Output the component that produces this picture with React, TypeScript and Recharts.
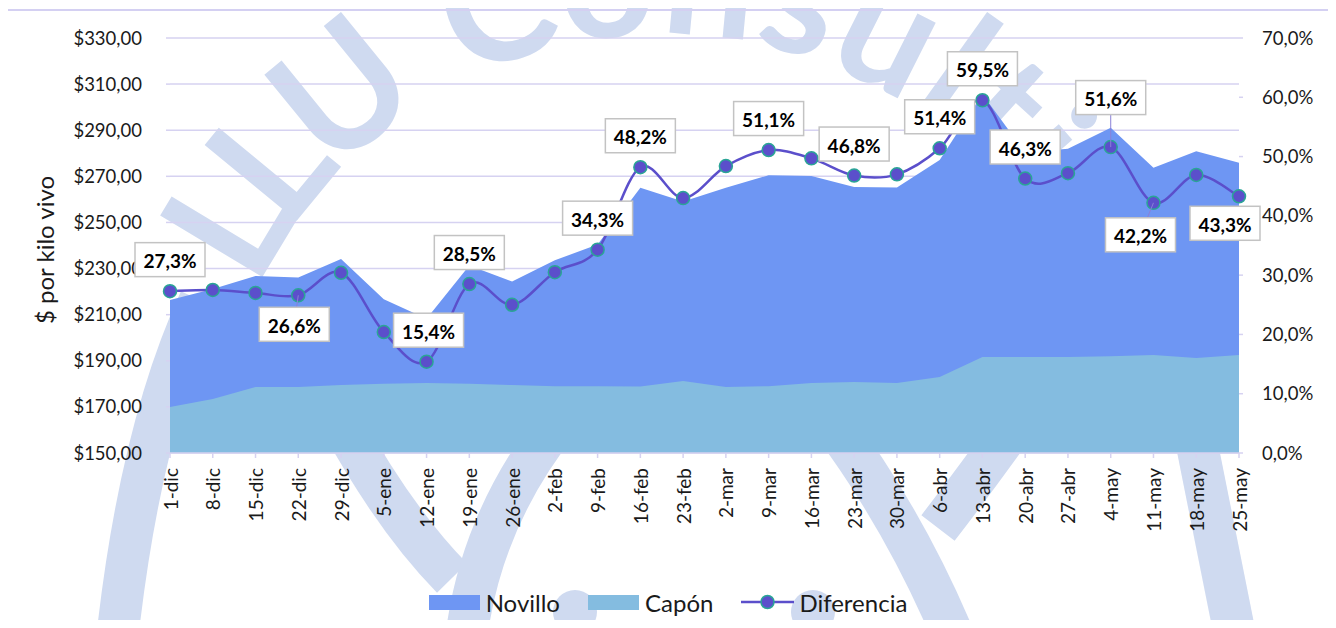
import React from "react";
import {
  Area,
  CartesianGrid,
  ComposedChart,
  LabelList,
  Legend,
  Line,
  XAxis,
  YAxis,
} from "recharts";

const weeks = [
  "1-dic", "8-dic", "15-dic", "22-dic", "29-dic", "5-ene", "12-ene", "19-ene", "26-ene",
  "2-feb", "9-feb", "16-feb", "23-feb", "2-mar", "9-mar", "16-mar", "23-mar", "30-mar",
  "6-abr", "13-abr", "20-abr", "27-abr", "4-may", "11-may", "18-may", "25-may",
];

const novillo = [
  216.4, 221.1, 226.8, 226.1, 234.1, 216.7, 208.2, 231.3, 224.4, 233.6, 240.4, 265.0, 259.1,
  265.0, 270.5, 270.1, 265.4, 265.2, 277.1, 305.6, 280.3, 282.0, 291.1, 273.7, 280.9, 275.9,
];

const capon = [
  170.0, 173.4, 178.6, 178.6, 179.5, 180.0, 180.4, 180.0, 179.5, 179.0, 179.0, 178.8, 181.2,
  178.6, 179.0, 180.4, 180.8, 180.4, 183.0, 191.6, 191.6, 191.6, 192.0, 192.5, 191.2, 192.5,
];

const diferencia = [
  27.3, 27.5, 27.0, 26.6, 30.4, 20.4, 15.4, 28.5, 25.0, 30.5, 34.3, 48.2, 43.0,
  48.4, 51.1, 49.7, 46.8, 47.0, 51.4, 59.5, 46.3, 47.2, 51.6, 42.2, 46.9, 43.3,
];

const priceTicks = [150, 170, 190, 210, 230, 250, 270, 290, 310, 330];
const pctTicks = [0, 10, 20, 30, 40, 50, 60, 70];

// which points carry a data label
const labeled = [0, 3, 6, 7, 10, 11, 14, 16, 18, 19, 20, 22, 23, 25];

const data = weeks.map((week, i) => ({
  week,
  novillo: novillo[i],
  capon: capon[i],
  diferencia: diferencia[i],
}));

const FONT = "Lato, 'Open Sans', sans-serif";
const NOVILLO = "#6e96f3";
const CAPON = "#84bce0";
const LINE = "#5b4fcb";
const MARKER_EDGE = "#2aa596";
const GRID = "#d6d2f1";
const WATERMARK = "#cfdaf0";

const labelOffsets: Record<number, { dx?: number; dy?: number; leader?: boolean }> = {
  3: { dx: -4, dy: 29, leader: true },
  6: { dx: 2 },
  22: { dy: -49.5, leader: true },
  23: { dx: -13, dy: 32, leader: true },
  25: { dx: -14, dy: 27 },
};

const fmtPrice = (v: number) => `$${v.toFixed(2).replace(".", ",")}`;
const fmtPct = (v: number) => `${v.toFixed(1).replace(".", ",")}%`;

// Excel-like smoothed line (Catmull-Rom through the points)
const excelSmooth = (context: any) => {
  let pts: number[][] = [];
  return {
    areaStart() {},
    areaEnd() {},
    lineStart() {
      pts = [];
    },
    point(x: number, y: number) {
      pts.push([+x, +y]);
    },
    lineEnd() {
      if (!pts.length) return;
      context.moveTo(pts[0][0], pts[0][1]);
      for (let i = 0; i < pts.length - 1; i++) {
        const p0 = pts[Math.max(i - 1, 0)];
        const p1 = pts[i];
        const p2 = pts[i + 1];
        const p3 = pts[Math.min(i + 2, pts.length - 1)];
        context.bezierCurveTo(
          p1[0] + (p2[0] - p0[0]) / 6,
          p1[1] + (p2[1] - p0[1]) / 6,
          p2[0] - (p3[0] - p1[0]) / 6,
          p2[1] - (p3[1] - p1[1]) / 6,
          p2[0],
          p2[1]
        );
      }
    },
  };
};

function PctLabel(props: any) {
  const { x, y, value, index } = props;
  if (!labeled.includes(index)) return null;
  const o = labelOffsets[index] ?? {};
  const cx = x + (o.dx ?? 0);
  const cy = y + (o.dy ?? -31.5);
  const w = 70;
  const h = 34;
  return (
    <g>
      {o.leader && (
        <line x1={x} y1={y} x2={cx} y2={cy} stroke="#8a80d8" strokeWidth={1} />
      )}
      <rect x={cx - w / 2} y={cy - h / 2} width={w} height={h} fill="#fff" stroke="#c3c3c3" strokeWidth={1.5} />
      <text
        x={cx}
        y={cy + 1}
        textAnchor="middle"
        dominantBaseline="central"
        fontFamily={FONT}
        fontWeight={700}
        fontSize={19}
        fill="#000"
      >
        {fmtPct(value)}
      </text>
    </g>
  );
}

function WeekTick(props: any) {
  const { x, y, payload } = props;
  return (
    <text
      x={x}
      y={y}
      transform={`rotate(-90, ${x}, ${y})`}
      textAnchor="end"
      dominantBaseline="central"
      fontFamily={FONT}
      fontSize={19}
      fill="#1a1a1a"
    >
      {payload.value}
    </text>
  );
}

function LegendContent() {
  const item = { display: "flex", alignItems: "center" } as const;
  const text = { fontFamily: FONT, fontSize: 24, color: "#1a1a1a", marginLeft: 6 };
  return (
    <div style={{ display: "flex", justifyContent: "center", alignItems: "center", height: 28, gap: 28 }}>
      <div style={item}>
        <div style={{ width: 51, height: 15, background: NOVILLO }} />
        <span style={text}>Novillo</span>
      </div>
      <div style={item}>
        <div style={{ width: 51, height: 15, background: CAPON }} />
        <span style={text}>Capón</span>
      </div>
      <div style={item}>
        <svg width={53} height={16}>
          <line x1={0} y1={8} x2={53} y2={8} stroke={LINE} strokeWidth={2.5} />
          <circle cx={26.5} cy={8} r={6.5} fill={LINE} stroke={MARKER_EDGE} strokeWidth={1.5} />
        </svg>
        <span style={{ ...text, marginLeft: 5 }}>Diferencia</span>
      </div>
    </div>
  );
}

// pale logo behind the chart: letters set one by one along an arc
const WM_TEXT = "LLU Consulting";
const WM_EM: Record<string, number> = {
  L: 0.4, U: 0.67, " ": 0.29, C: 0.65, o: 0.57, n: 0.57, s: 0.44, u: 0.57, l: 0.27, t: 0.37, i: 0.26, g: 0.52,
};
const WM_SIZE = 165;
const WM_R = 450;
const WM_CX = 663;
const WM_CY = 484;

function Watermark() {
  const band = { fill: "none", stroke: WATERMARK, strokeWidth: 42 };
  let s = 211;
  const letters = [...WM_TEXT].map((ch, i) => {
    const w = WM_EM[ch] * WM_SIZE;
    const c = s + w / 2;
    s += w;
    if (ch === " ") return null;
    const phi = c / WM_R;
    const x = WM_CX - WM_R * Math.cos(phi);
    const y = WM_CY - WM_R * Math.sin(phi);
    const rot = (phi * 180) / Math.PI - 90;
    return (
      <text
        key={i}
        x={x}
        y={y}
        textAnchor="middle"
        transform={`rotate(${rot}, ${x}, ${y})`}
        fontFamily={FONT}
        fontWeight={700}
        fontSize={WM_SIZE}
        fill={WATERMARK}
      >
        {ch}
      </text>
    );
  });
  return (
    <svg width={1336} height={628} style={{ position: "absolute", left: 0, top: 0 }}>
      {letters}
      <path d="M 200 300 Q 140 430 117 640" {...band} />
      <path d="M 340 420 Q 395 520 452 578" {...band} />
      <path d="M 560 420 Q 480 520 466 640" {...band} />
      <circle cx={575} cy={612} r={22} fill={WATERMARK} />
      <path d="M 830 420 Q 905 520 955 640" {...band} />
      <path d="M 1018 420 Q 975 480 938 528" {...band} />
      <circle cx={813} cy={612} r={22} fill={WATERMARK} />
      <path d="M 1192 420 Q 1212 520 1236 640" {...band} />
    </svg>
  );
}

export default function App() {
  return (
    <div style={{ position: "relative", width: 1320, height: 612 }}>
      <div style={{ position: "absolute", left: -8, top: -8, width: 1336, height: 628, overflow: "hidden" }}>
        <Watermark />
        <div
          style={{
            position: "absolute",
            left: 6,
            top: 9,
            width: 1329,
            height: 640,
            border: "2px solid #d4d0f2",
            boxSizing: "border-box",
          }}
        />
        <div style={{ position: "absolute", left: 0, top: 0 }}>
          <ComposedChart
            width={1336}
            height={628}
            data={data}
            margin={{ top: 38, right: 0, bottom: 0, left: 0 }}
          >
            <CartesianGrid yAxisId="price" vertical={false} stroke={GRID} strokeWidth={1.5} />
            <XAxis
              dataKey="week"
              scale="point"
              padding={{ left: 0, right: 0 }}
              interval={0}
              height={135}
              axisLine={{ stroke: GRID, strokeWidth: 1.5 }}
              tickLine={{ stroke: GRID, strokeWidth: 1.5 }}
              tickSize={5}
              tickMargin={10}
              tick={<WeekTick />}
            />
            <YAxis
              yAxisId="price"
              orientation="left"
              width={170}
              domain={[150, 330]}
              ticks={priceTicks}
              interval={0}
              tickFormatter={fmtPrice}
              axisLine={false}
              tickLine={{ stroke: GRID, strokeWidth: 1.5 }}
              tickSize={4}
              tickMargin={24}
              tick={{ fontFamily: FONT, fontSize: 18.5, fill: "#1a1a1a" }}
              label={() => (
                <text
                  x={44}
                  y={250}
                  transform="rotate(-90, 44, 250)"
                  textAnchor="middle"
                  dominantBaseline="central"
                  fontFamily={FONT}
                  fontSize={24}
                  fill="#1a1a1a"
                >
                  $ por kilo vivo
                </text>
              )}
            />
            <YAxis
              yAxisId="pct"
              orientation="right"
              width={97}
              domain={[0, 70]}
              ticks={pctTicks}
              interval={0}
              tickFormatter={fmtPct}
              axisLine={false}
              tickLine={{ stroke: GRID, strokeWidth: 1.5 }}
              tickSize={4}
              tickMargin={19}
              tick={{ fontFamily: FONT, fontSize: 18.5, fill: "#1a1a1a", textAnchor: "start" }}
            />
            <Legend verticalAlign="bottom" height={40} content={<LegendContent />} />
            <Area
              yAxisId="price"
              dataKey="novillo"
              name="Novillo"
              type="linear"
              fill={NOVILLO}
              fillOpacity={1}
              stroke="none"
              isAnimationActive={false}
            />
            <Area
              yAxisId="price"
              dataKey="capon"
              name="Capón"
              type="linear"
              fill={CAPON}
              fillOpacity={1}
              stroke="none"
              isAnimationActive={false}
            />
            <Line
              yAxisId="pct"
              dataKey="diferencia"
              name="Diferencia"
              type={excelSmooth as any}
              stroke={LINE}
              strokeWidth={2.5}
              dot={{ r: 6.5, fill: LINE, stroke: MARKER_EDGE, strokeWidth: 1.5 }}
              activeDot={false}
              isAnimationActive={false}
            >
              <LabelList dataKey="diferencia" content={<PctLabel />} />
            </Line>
          </ComposedChart>
        </div>
      </div>
    </div>
  );
}
